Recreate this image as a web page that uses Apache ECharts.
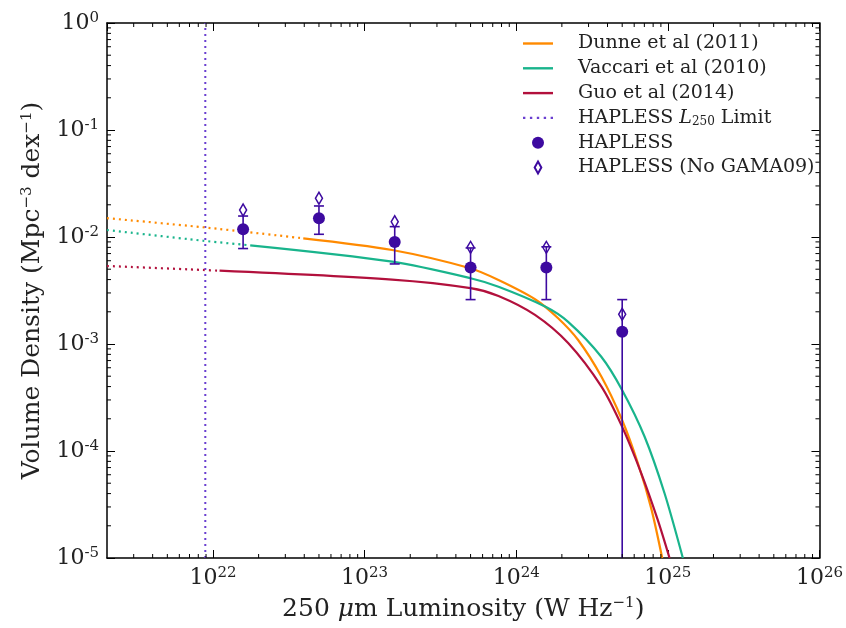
<!DOCTYPE html>
<html>
<head>
<meta charset="utf-8">
<title>250 um luminosity function</title>
<script src="https://cdn.jsdelivr.net/npm/echarts@6/dist/echarts.min.js"></script>
<style>
  html, body { margin: 0; padding: 0; background: #fff; }
  #chart { width: 846px; height: 628px; }
</style>
</head>
<body>
<div id="chart"></div>
<script>
// axis ranges
const xMin = 2e21, xMax = 1e26;
const yMin = 1e-5, yMax = 1;

// HAPLESS luminosity bins (W/Hz) and volume densities (Mpc^-3 dex^-1)
const hapL = [1.58e22, 5.0e22, 1.58e23, 5.0e23, 1.58e24, 5.0e24];
const hapPhi = [0.0118, 0.0150, 0.0090, 0.0052, 0.0052, 0.0013];
const hapLow = [0.0078, 0.0106, 0.0056, 0.0026, 0.0026, 0];
const hapHigh = [0.0157, 0.0195, 0.0125, 0.0079, 0.0081, 0.0026];
const noGamaPhi = [0.0179, 0.0230, 0.0139, 0.0080, 0.0080, 0.0019];

// HAPLESS luminosity limit
const limitL = 8.9e21;

// Dunne et al (2011): dotted extrapolation + solid part
const dunneExtL = [2e21, 8.6e21, 3.94e22];
const dunneExtPhi = [0.0150, 0.01233, 0.00972];
const dunneL = [3.94e22, 1.52e23, 4.98e23, 7.64e23, 1.33e24, 1.89e24, 2.56e24, 3.65e24, 4.99e24, 6.35e24, 7.77e24, 9.18e24];
const dunnePhi = [0.00972, 0.00756, 0.0051, 0.00396, 0.00262, 0.00174, 0.00109, 0.000494, 0.000195, 7.68e-5, 2.91e-5, 1e-5];

// Vaccari et al (2010)
const vaccExtL = [2e21, 8.6e21, 1.76e22];
const vaccExtPhi = [0.01162, 0.00923, 0.00836];
const vaccL = [1.76e22, 1.52e23, 5.0e23, 7.64e23, 1.55e24, 2.20e24, 3.65e24, 4.99e24, 7.03e24, 9.51e24, 1.256e25];
const vaccPhi = [0.00836, 0.00588, 0.00412, 0.00343, 0.00224, 0.00161, 0.000756, 0.000372, 0.000136, 4.03e-5, 1e-5];

// Guo et al (2014)
const guoExtL = [2e21, 8.6e21, 1.105e22];
const guoExtPhi = [0.00536, 0.00492, 0.00484];
const guoL = [1.105e22, 1.52e23, 5.0e23, 7.64e23, 1.33e24, 2.20e24, 3.65e24, 4.99e24, 6.68e24, 8.59e24, 1.026e25];
const guoPhi = [0.00484, 0.00400, 0.00333, 0.00281, 0.00187, 0.00102, 0.000399, 0.000169, 6.19e-5, 2.26e-5, 1e-5];

// minor tick multipliers for the log axes
const minorSteps = [2, 3, 4, 5, 6, 7, 8, 9];

const FONT = 'DejaVu Serif';
const C_DUNNE = '#ff8a00';
const C_VACC = '#19b48c';
const C_GUO = '#b2103c';
const C_HAP = '#3d0aa0';
const C_LIMIT = '#6a3fd0';

const zip = (xs, ys) => xs.map((x, i) => [x, ys[i]]);

const xMinor = [];
for (let e = 21; e < 26; e++) {
    minorSteps.forEach(m => {
        const v = m * Math.pow(10, e);
        if (v > xMin && v < xMax) xMinor.push([v, yMin]);
    });
}
const yMinor = [];
for (let e = -5; e < 0; e++) {
    minorSteps.forEach(m => yMinor.push([xMin, m * Math.pow(10, e)]));
}

const chart = echarts.init(document.getElementById('chart'));

const tickFmt = v => '{b|10}{sup|' + Math.round(Math.log10(v)) + '}';
const tickRich = {
    b: { fontFamily: FONT, fontSize: 22, color: '#222' },
    sup: { fontFamily: FONT, fontSize: 15, color: '#222', verticalAlign: 'top', padding: [0, 0, 10, 0] }
};
const spine = { show: true, lineStyle: { color: '#000', width: 1.5 } };
const majorTick = { show: true, inside: true, length: 8, lineStyle: { color: '#000', width: 1 } };

// legend icons: a solid bar and a row of dots
const ICON_SOLID = 'path://M0,0h30v2.4h-30z';
const ICON_DOTS = 'path://M0,0h2.4v2.4h-2.4z M7,0h2.4v2.4h-2.4z M14,0h2.4v2.4h-2.4z M21,0h2.4v2.4h-2.4z M28,0h2.4v2.4h-2.4z';
const ICON_DIAMOND = 'path://M5,0 L10,9 L5,18 L0,9 Z';

function solidLine(name, xs, ys, color) {
    return {
        name: name, type: 'line', data: zip(xs, ys), symbol: 'none', smooth: 0.3,
        lineStyle: { color: color, width: 2.2 }, itemStyle: { color: color }, z: 3
    };
}
function dottedLine(name, xs, ys, color) {
    return {
        name: name, type: 'line', data: zip(xs, ys), symbol: 'none', smooth: 0.3,
        lineStyle: { color: color, width: 2.2, type: [2, 4] }, itemStyle: { color: color }, z: 3
    };
}
function minorTicks(isX) {
    return function (params, api) {
        const len = 4;
        const style = { stroke: '#000', lineWidth: 1 };
        if (isX) {
            const v = api.value(0);
            const b = api.coord([v, yMin]), t = api.coord([v, yMax]);
            return { type: 'group', children: [
                { type: 'line', shape: { x1: b[0], y1: b[1], x2: b[0], y2: b[1] - len }, style: style },
                { type: 'line', shape: { x1: t[0], y1: t[1], x2: t[0], y2: t[1] + len }, style: style }
            ] };
        }
        const v = api.value(1);
        const l = api.coord([xMin, v]), r = api.coord([xMax, v]);
        return { type: 'group', children: [
            { type: 'line', shape: { x1: l[0], y1: l[1], x2: l[0] + len, y2: l[1] }, style: style },
            { type: 'line', shape: { x1: r[0], y1: r[1], x2: r[0] - len, y2: r[1] }, style: style }
        ] };
    };
}

const option = {
    backgroundColor: '#fff',
    animation: false,
    grid: { left: 107, right: 24, top: 23, bottom: 70 },
    legend: {
        orient: 'vertical',
        left: 518, top: 29,
        itemWidth: 30, itemHeight: 12, itemGap: 5.8,
        textStyle: {
            fontFamily: FONT, fontSize: 19, color: '#222', padding: [0, 0, 0, 20],
            rich: {
                it: { fontFamily: FONT, fontSize: 19, fontStyle: 'italic', color: '#222' },
                sub: { fontFamily: FONT, fontSize: 12, color: '#222', verticalAlign: 'bottom', padding: [6, 0, 0, 0] }
            }
        },
        formatter: n => n === 'HAPLESS L250 Limit' ? 'HAPLESS {it|L}{sub|250} Limit' : n,
        data: [
            { name: 'Dunne et al (2011)', icon: ICON_SOLID },
            { name: 'Vaccari et al (2010)', icon: ICON_SOLID },
            { name: 'Guo et al (2014)', icon: ICON_SOLID },
            { name: 'HAPLESS L250 Limit', icon: ICON_DOTS },
            { name: 'HAPLESS', icon: 'circle' },
            { name: 'HAPLESS (No GAMA09)', icon: ICON_DIAMOND }
        ]
    },
    xAxis: [
        {
            type: 'log', logBase: 10, min: xMin, max: xMax, position: 'bottom',
            name: '250 {it|μ}m Luminosity (W Hz{sup|−1})',
            nameLocation: 'middle', nameGap: 38,
            nameTextStyle: {
                fontFamily: FONT, fontSize: 25, color: '#222',
                rich: {
                    it: { fontFamily: FONT, fontSize: 25, fontStyle: 'italic', color: '#222' },
                    sup: { fontFamily: FONT, fontSize: 15, color: '#222', verticalAlign: 'top', padding: [0, 0, 12, 0] }
                }
            },
            axisLine: spine, axisTick: majorTick,
            axisLabel: { formatter: tickFmt, rich: tickRich, margin: 8, showMinLabel: false },
            splitLine: { show: false }
        },
        {
            type: 'log', logBase: 10, min: xMin, max: xMax, position: 'top',
            axisLine: spine, axisTick: majorTick, axisLabel: { show: false }, splitLine: { show: false }
        }
    ],
    yAxis: [
        {
            type: 'log', logBase: 10, min: yMin, max: yMax, position: 'left',
            name: 'Volume Density (Mpc{sup|−3} dex{sup|−1})',
            nameLocation: 'middle', nameGap: 58,
            nameTextStyle: {
                fontFamily: FONT, fontSize: 25, color: '#222',
                rich: {
                    sup: { fontFamily: FONT, fontSize: 15, color: '#222', verticalAlign: 'top', padding: [0, 0, 12, 0] }
                }
            },
            axisLine: spine, axisTick: majorTick,
            axisLabel: { formatter: tickFmt, rich: tickRich, margin: 8 },
            splitLine: { show: false }
        },
        {
            type: 'log', logBase: 10, min: yMin, max: yMax, position: 'right',
            axisLine: spine, axisTick: majorTick, axisLabel: { show: false }, splitLine: { show: false }
        }
    ],
    series: [
        dottedLine('Dunne ext', dunneExtL, dunneExtPhi, C_DUNNE),
        dottedLine('Vaccari ext', vaccExtL, vaccExtPhi, C_VACC),
        dottedLine('Guo ext', guoExtL, guoExtPhi, C_GUO),
        solidLine('Dunne et al (2011)', dunneL, dunnePhi, C_DUNNE),
        solidLine('Vaccari et al (2010)', vaccL, vaccPhi, C_VACC),
        solidLine('Guo et al (2014)', guoL, guoPhi, C_GUO),
        {
            name: 'HAPLESS L250 Limit', type: 'line', symbol: 'none',
            data: [[limitL, yMin], [limitL, yMax]],
            lineStyle: { color: C_LIMIT, width: 2, type: [2, 4] }, itemStyle: { color: C_LIMIT }, z: 2
        },
        {
            name: 'errors', type: 'custom', z: 4, silent: true,
            data: hapL.map((l, i) => [l, hapPhi[i], hapLow[i], hapHigh[i]]),
            encode: { x: 0, y: 1 },
            renderItem: function (params, api) {
                const x = api.value(0), lo = api.value(2), hi = api.value(3);
                const top = api.coord([x, hi]);
                const bot = api.coord([x, lo > 0 ? lo : yMin]);
                const cap = 5;
                const style = { stroke: C_HAP, lineWidth: 1.6 };
                const children = [
                    { type: 'line', shape: { x1: top[0], y1: top[1], x2: bot[0], y2: bot[1] }, style: style },
                    { type: 'line', shape: { x1: top[0] - cap, y1: top[1], x2: top[0] + cap, y2: top[1] }, style: style }
                ];
                if (lo > 0) {
                    children.push({ type: 'line', shape: { x1: bot[0] - cap, y1: bot[1], x2: bot[0] + cap, y2: bot[1] }, style: style });
                }
                return { type: 'group', children: children };
            }
        },
        {
            name: 'HAPLESS', type: 'scatter', symbol: 'circle', symbolSize: 12,
            data: zip(hapL, hapPhi), itemStyle: { color: C_HAP, opacity: 1 }, z: 5
        },
        {
            name: 'HAPLESS (No GAMA09)', type: 'scatter',
            symbol: ICON_DIAMOND, symbolSize: [7, 12],
            data: zip(hapL, noGamaPhi),
            itemStyle: { color: 'rgba(255,255,255,0)', borderColor: C_HAP, borderWidth: 1.6, opacity: 1 }, z: 5
        },
        {
            name: 'xminor', type: 'custom', silent: true, z: 6,
            data: xMinor, encode: { x: 0, y: 1 }, renderItem: minorTicks(true)
        },
        {
            name: 'yminor', type: 'custom', silent: true, z: 6,
            data: yMinor, encode: { x: 0, y: 1 }, renderItem: minorTicks(false)
        }
    ]
};

chart.setOption(option);
</script>
</body>
</html>
